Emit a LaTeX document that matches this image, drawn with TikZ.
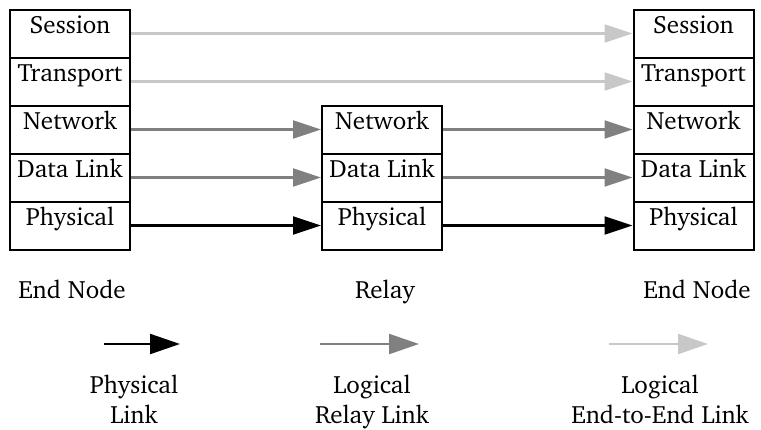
\documentclass[tikz,border=0pt]{standalone}
\usepackage[T1]{fontenc}
\renewcommand{\rmdefault}{bch}
\usetikzlibrary{arrows.meta}
\definecolor{relaygray}{HTML}{808080}
\definecolor{etegray}{HTML}{C8C8C8}
\tikzset{
  layer/.style={draw, line width=2pt, minimum width=120pt, inner xsep=0pt, inner ysep=0pt,
    text height=24pt, text depth=24pt, font=\fontsize{25}{28}\selectfont},
  link/.style={line width=2.2pt, -{Triangle[length=28pt,width=18pt]}},
  keylink/.style={line width=2.2pt, -{Triangle[length=30pt,width=20pt]}},
  phys/.style={link, black},
  relay/.style={link, relaygray},
  ete/.style={link, etegray},
  caption/.style={font=\fontsize{25}{30}\selectfont, align=center, anchor=base}
}
\begin{document}
\begin{tikzpicture}[x=1pt, y=-1pt]
\useasboundingbox (0,0) rectangle (761,429);
% left end node stack
\node[layer] (ls) at (70,33.5)  {Session};
\node[layer] (lt) at (70,81.5)  {Transport};
\node[layer] (ln) at (70,129.5) {Network};
\node[layer] (ld) at (70,177.5) {Data Link};
\node[layer] (lp) at (70,225.5) {Physical};
% relay stack
\node[layer] (mn) at (382,129.5) {Network};
\node[layer] (md) at (382,177.5) {Data Link};
\node[layer] (mp) at (382,225.5) {Physical};
% right end node stack
\node[layer] (rs) at (693.5,33.5)  {Session};
\node[layer] (rt) at (693.5,81.5)  {Transport};
\node[layer] (rn) at (693.5,129.5) {Network};
\node[layer] (rd) at (693.5,177.5) {Data Link};
\node[layer] (rp) at (693.5,225.5) {Physical};
% links between peer layers
\draw[ete] (ls.east) -- (rs.west);
\draw[ete] (lt.east) -- (rt.west);
\draw[relay] (ln.east) -- (mn.west);
\draw[relay] (ld.east) -- (md.west);
\draw[phys] (lp.east) -- (mp.west);
\draw[relay] (mn.east) -- (rn.west);
\draw[relay] (md.east) -- (rd.west);
\draw[phys] (mp.east) -- (rp.west);
% stack captions
\node[caption] (cl) at (72,298) {End Node};
\node[caption] (cm) at (385,298) {Relay};
\node[caption] (cr) at (697,298) {End Node};
% legend
\coordinate (pa) at (104,344); \coordinate (pb) at (180,344);
\coordinate (ra) at (320,344); \coordinate (rb) at (419,344);
\coordinate (ea) at (609,344); \coordinate (eb) at (708,344);
\draw[keylink, black] (pa) -- (pb);
\draw[keylink, relaygray] (ra) -- (rb);
\draw[keylink, etegray] (ea) -- (eb);
\node[caption] (kp) at (134,423) {Physical\\Link};
\node[caption] (kr) at (372,423) {Logical\\Relay Link};
\node[caption] (ke) at (660,423) {Logical\\End-to-End Link};
\end{tikzpicture}
\end{document}
